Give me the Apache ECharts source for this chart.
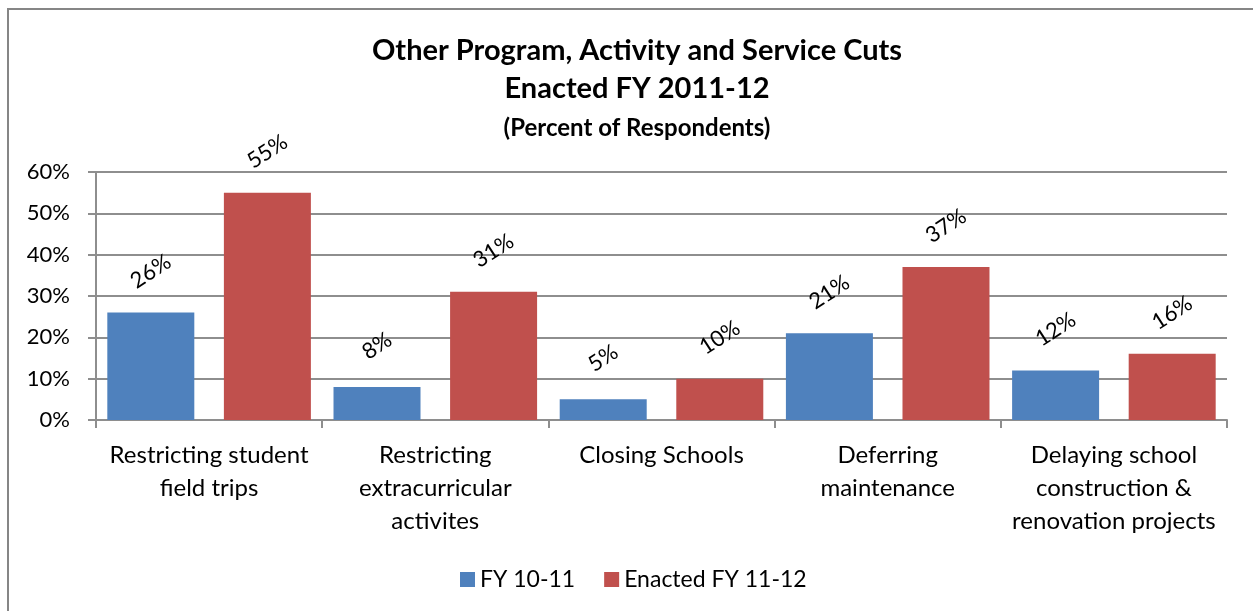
<!DOCTYPE html>
<html>
<head>
<meta charset="utf-8">
<script src="https://cdn.jsdelivr.net/npm/echarts@6/dist/echarts.min.js"></script>
<style>
  html, body { margin: 0; padding: 0; background: #ffffff; }
  #chart { width: 1253px; height: 611px; }
</style>
</head>
<body>
<div id="chart"></div>
<script>
// Survey categories (x axis)
const categories = [
  'Restricting student\nfield trips',
  'Restricting\nextracurricular\nactivites',
  'Closing Schools',
  'Deferring\nmaintenance',
  'Delaying school\nconstruction &\nrenovation projects'
];

// Percent of respondents per year
const fy1011 = [26, 8, 5, 21, 12];
const fy1112 = [55, 31, 10, 37, 16];

const seriesNames = ['FY 10-11', 'Enacted FY 11-12'];

// Y axis range (percent)
const yMin = 0, yMax = 60, yStep = 10;

const FONT = 'Lato, "Open Sans", "Noto Sans", sans-serif';
const GRID_COLOR = '#8e8e8e';

const chart = echarts.init(document.getElementById('chart'), null, { renderer: 'canvas' });

const barLabel = {
  show: true,
  position: 'top',
  distance: 41,
  rotate: 33,
  align: 'center',
  verticalAlign: 'middle',
  formatter: p => p.value + '%',
  color: '#000',
  fontFamily: FONT,
  fontSize: 22
};

chart.setOption({
  animation: false,
  backgroundColor: '#ffffff',
  title: {
    text: 'Other Program, Activity and Service Cuts\nEnacted FY 2011-12',
    subtext: '(Percent of Respondents)',
    left: 632,
    top: 27,
    textAlign: 'center',
    itemGap: 8,
    textStyle: {
      fontFamily: FONT, fontWeight: 'bold', fontSize: 29, lineHeight: 38, color: '#000'
    },
    subtextStyle: {
      fontFamily: FONT, fontWeight: 'bold', fontSize: 24, lineHeight: 24, color: '#000'
    }
  },
  legend: {
    data: seriesNames,
    left: 455,
    top: 563,
    itemWidth: 15,
    itemHeight: 15,
    itemGap: 29,
    icon: 'rect',
    textStyle: { fontFamily: FONT, fontSize: 23, color: '#000' }
  },
  grid: { left: 96, right: 26, top: 172, bottom: 191, containLabel: false },
  xAxis: {
    type: 'category',
    data: categories,
    axisLine: { show: true, lineStyle: { color: GRID_COLOR, width: 2 } },
    axisTick: { show: true, length: 8, interval: 0, lineStyle: { color: GRID_COLOR, width: 2 } },
    axisLabel: {
      interval: 0, margin: 19, color: '#000', fontFamily: FONT, fontSize: 24, lineHeight: 33
    }
  },
  yAxis: {
    type: 'value',
    min: yMin, max: yMax, interval: yStep,
    axisLine: { show: true, lineStyle: { color: GRID_COLOR, width: 2 } },
    axisTick: { show: true, length: 8, lineStyle: { color: GRID_COLOR, width: 2 } },
    axisLabel: {
      formatter: '{value}%', margin: 26, color: '#000', fontFamily: FONT, fontSize: 22
    },
    splitLine: { show: true, lineStyle: { color: GRID_COLOR, width: 2 } }
  },
  series: [
    {
      name: seriesNames[0], type: 'bar', data: fy1011,
      barWidth: 87, barGap: '34%',
      itemStyle: { color: '#4f81bd' },
      label: barLabel
    },
    {
      name: seriesNames[1], type: 'bar', data: fy1112,
      barWidth: 87,
      itemStyle: { color: '#c0504d' },
      label: barLabel
    }
  ],
  graphic: [
    {
      type: 'rect',
      silent: true,
      shape: { x: 8, y: 9, width: 1300, height: 700 },
      style: { fill: 'none', stroke: '#868686', lineWidth: 2 }
    }
  ]
});
</script>
</body>
</html>
